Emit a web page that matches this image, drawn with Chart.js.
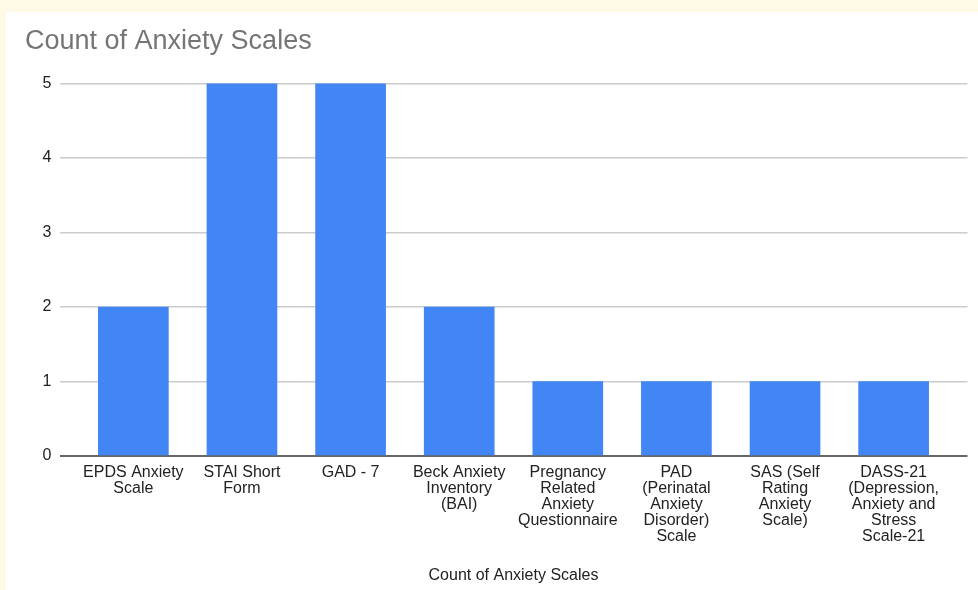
<!DOCTYPE html>
<html>
<head>
<meta charset="utf-8">
<script src="https://cdn.jsdelivr.net/npm/chart.js@4/dist/chart.umd.min.js"></script>
<style>
  html, body { margin: 0; padding: 0; background: #fffae6; width: 978px; height: 590px; overflow: hidden; }
  #frame { position: absolute; left: 6px; top: 12px; width: 972px; height: 578px; background: #ffffff; }
  canvas { display: block; }
</style>
</head>
<body>
<div id="frame"><canvas id="chart" width="972" height="578"></canvas></div>
<script>
// Anxiety scales and how often each one was used
const categories = [
  ['EPDS Anxiety', 'Scale'],
  ['STAI Short', 'Form'],
  ['GAD - 7'],
  ['Beck Anxiety', 'Inventory', '(BAI)'],
  ['Pregnancy', 'Related', 'Anxiety', 'Questionnaire'],
  ['PAD', '(Perinatal', 'Anxiety', 'Disorder)', 'Scale'],
  ['SAS (Self', 'Rating', 'Anxiety', 'Scale)'],
  ['DASS-21', '(Depression,', 'Anxiety and', 'Stress', 'Scale-21']
];
const counts = [2, 5, 5, 2, 1, 1, 1, 1];
const yTicks = [0, 1, 2, 3, 4, 5];
const chartTitle = 'Count of Anxiety Scales';
const xAxisTitle = 'Count of Anxiety Scales';

const points = counts.map((v, i) => ({ x: i, y: v }));
const fontFamily = 'Arial, "Liberation Sans", sans-serif';

new Chart(document.getElementById('chart'), {
  type: 'bar',
  data: {
    datasets: [{
      data: points,
      backgroundColor: '#4285f4',
      borderWidth: 0,
      barThickness: 70
    }]
  },
  options: {
    responsive: false,
    animation: false,
    layout: { padding: { left: 19, right: 10.5, top: 0, bottom: 0 } },
    plugins: {
      legend: { display: false },
      tooltip: { enabled: false },
      title: {
        display: true,
        text: chartTitle,
        align: 'start',
        color: '#757575',
        font: { family: fontFamily, size: 27, weight: 'normal', lineHeight: 1.2 },
        padding: { top: 13, bottom: 26 }
      }
    },
    scales: {
      x: {
        type: 'linear',
        offset: false,
        min: -0.68,
        max: 7.68,
        afterBuildTicks: (scale) => { scale.ticks = categories.map((_, i) => ({ value: i })); },
        grid: { display: false, drawTicks: false },
        border: { display: false },
        ticks: {
          autoSkip: false,
          maxRotation: 0,
          padding: 9,
          color: '#222222',
          font: { family: fontFamily, size: 16, lineHeight: 1.0 },
          callback: (value) => categories[value]
        },
        title: {
          display: true,
          text: xAxisTitle,
          color: '#222222',
          font: { family: fontFamily, size: 16, lineHeight: 1.0 },
          padding: { top: 14, bottom: 6 }
        }
      },
      y: {
        min: 0,
        max: 5,
        afterBuildTicks: (scale) => { scale.ticks = yTicks.map(v => ({ value: v })); },
        afterFit: (scale) => { scale.width = 34.5; },
        grid: {
          drawTicks: false,
          color: (ctx) => ctx.tick && ctx.tick.value === 0 ? '#666666' : '#cccccc',
          lineWidth: (ctx) => ctx.tick && ctx.tick.value === 0 ? 2 : 1.5
        },
        border: { display: false },
        ticks: {
          padding: 8,
          color: '#222222',
          font: { family: fontFamily, size: 16 }
        }
      }
    }
  }
});
</script>
</body>
</html>
